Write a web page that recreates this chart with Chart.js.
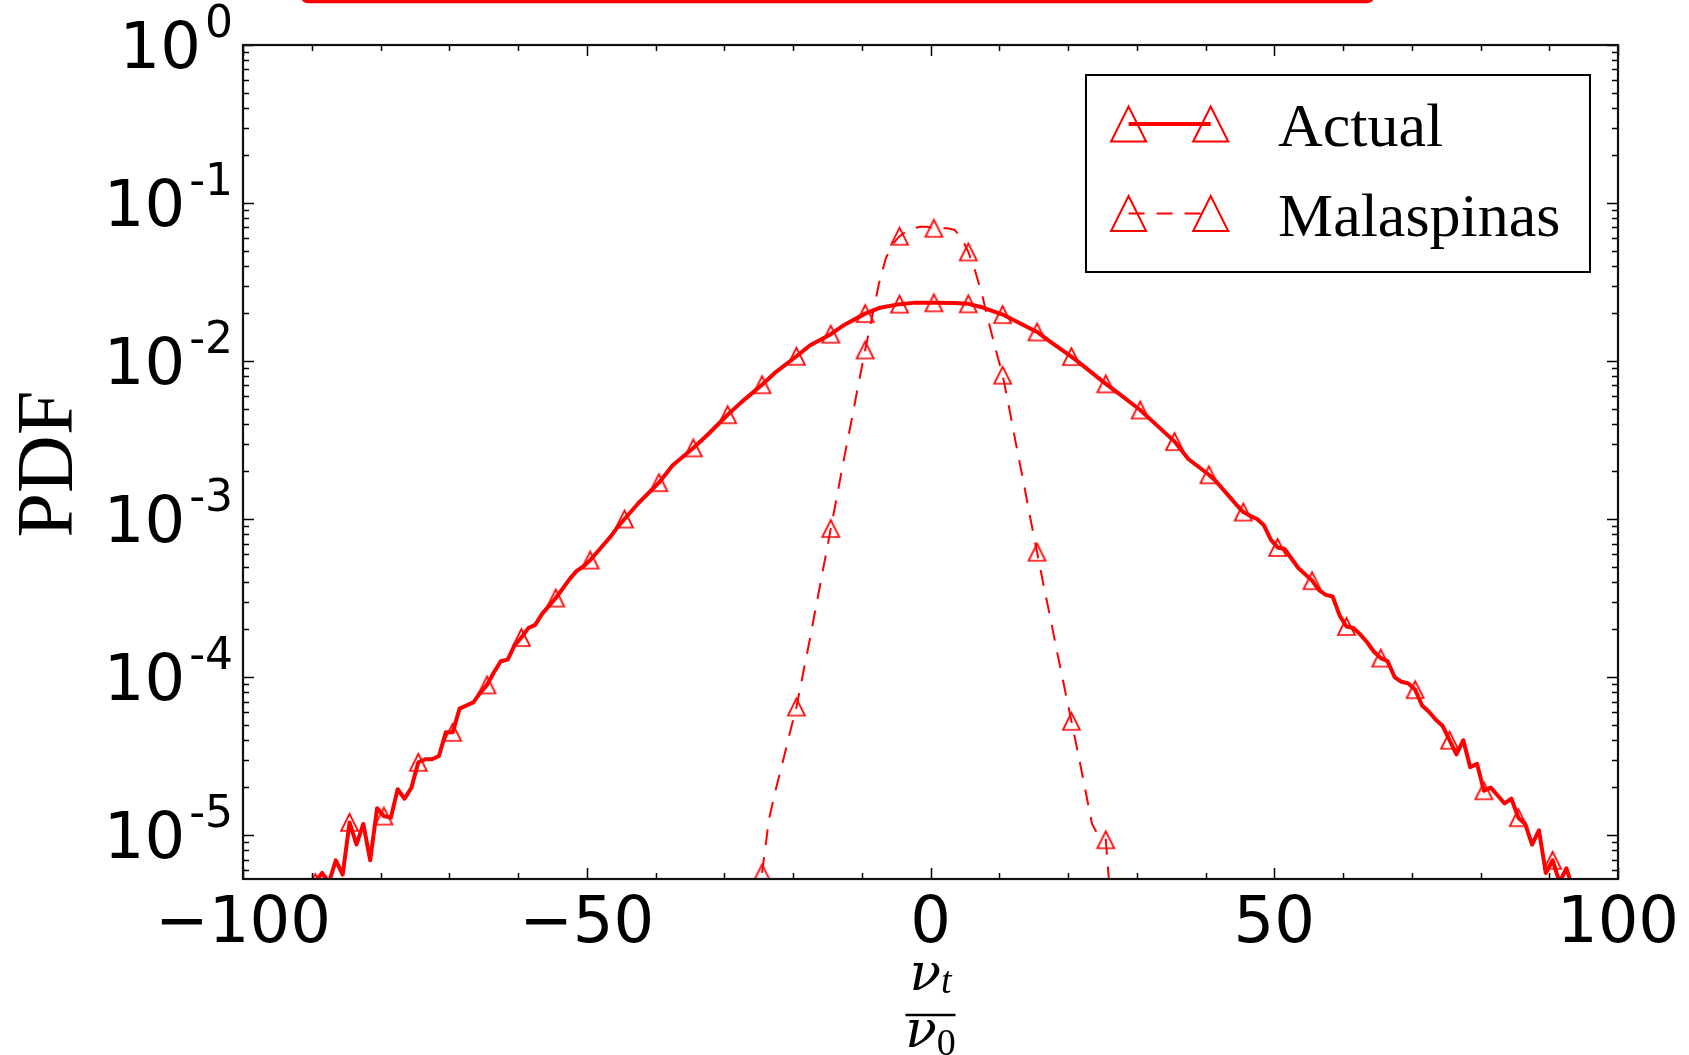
<!DOCTYPE html>
<html>
<head>
<meta charset="utf-8">
<script src="https://cdn.jsdelivr.net/npm/chart.js@4.4.1/dist/chart.umd.min.js"></script>
<style>
  html, body { margin: 0; padding: 0; background: #fff; }
  #wrap { width: 1689px; height: 1055px; }
</style>
</head>
<body>
<div id="wrap"><canvas id="pdfChart" width="1689" height="1055"></canvas></div>
<script>
// values: x = nu_t / nu_0, y stored as log10(PDF)
const actualX = [
  -89.5, -88.5, -87.5, -86.5, -85.5, -84.5, -83.5, -82.5, -81.5, -80.5,
  -79.5, -78.5, -77.5, -76.5, -75.5, -74.5, -73.5, -72.5, -71.5, -70.5,
  -69.5, -68.5, -67.5, -66.5, -65.5, -64.5, -63.5, -62.5, -61.5, -60.5,
  -59.5, -58.5, -57.5, -56.5, -55.5, -54.5, -53.5, -52.5, -51.5, -50.5,
  -49.5, -48.5, -47.5, -46.5, -45.5, -44.5, -42.5, -39.5, -37.5, -34.5,
  -32.5, -29.5, -27.5, -24.5, -22.5, -19.5, -17.5, -14.5, -12.5, -9.5,
  -7.5, -4.5, -2.5, 0.5, 3.5, 5.5, 7.5, 10.5, 12.5, 15.5,
  17.5, 20.5, 22.5, 25.5, 27.5, 30.5, 32.5, 35.5, 37.5, 40.5,
  41.5, 42.5, 43.5, 44.5, 45.5, 46.5, 47.5, 48.5, 49.5, 50.5,
  51.5, 52.5, 53.5, 54.5, 55.5, 56.5, 57.5, 58.5, 59.5, 60.5,
  61.5, 62.5, 63.5, 64.5, 65.5, 66.5, 67.5, 68.5, 69.5, 70.5,
  71.5, 72.5, 73.5, 74.5, 75.5, 76.5, 77.5, 78.5, 79.5, 80.5,
  81.5, 82.5, 83.5, 84.5, 85.5, 86.5, 87.5, 88.5, 89.5, 90.5,
  91.5, 92.5, 93.5
];
const actualLogPdf = [
  -5.30, -5.24, -5.30, -5.16, -5.25, -4.92, -5.06, -4.93, -5.16, -4.83,
  -4.88, -4.89, -4.71, -4.77, -4.70, -4.54, -4.52, -4.52, -4.50, -4.35,
  -4.35, -4.20, -4.18, -4.16, -4.10, -4.05, -3.97, -3.90, -3.89, -3.80,
  -3.75, -3.69, -3.67, -3.60, -3.55, -3.50, -3.44, -3.38, -3.33, -3.30,
  -3.26, -3.21, -3.16, -3.11, -3.05, -3.00, -2.90, -2.77, -2.66, -2.55,
  -2.47, -2.34, -2.26, -2.15, -2.07, -1.97, -1.90, -1.83, -1.77, -1.70,
  -1.665, -1.64, -1.632, -1.632, -1.633, -1.638, -1.66, -1.706, -1.75, -1.816,
  -1.88, -1.972, -2.04, -2.145, -2.21, -2.31, -2.39, -2.51, -2.62, -2.72,
  -2.76, -2.81, -2.86, -2.91, -2.956, -2.98, -3.00, -3.04, -3.13, -3.18,
  -3.19, -3.25, -3.31, -3.35, -3.39, -3.45, -3.48, -3.49, -3.61, -3.68,
  -3.69, -3.73, -3.78, -3.84, -3.88, -3.90, -4.00, -4.03, -4.04, -4.08,
  -4.18, -4.22, -4.27, -4.31, -4.40, -4.49, -4.40, -4.57, -4.55, -4.72,
  -4.70, -4.75, -4.80, -4.77, -4.89, -4.93, -5.06, -4.97, -5.24, -5.16,
  -5.30, -5.21, -5.35
];

const malaX = [
  -24.5, -23.5, -22.5, -21.5, -20.5, -19.5, -18.5, -17.5, -16.5, -15.5,
  -14.5, -13.5, -12.5, -11.5, -10.5, -9.5, -8.5, -7.5, -6.5, -5.5,
  -4.5, -3.5, -2.5, -1.5, -0.5, 0.5, 1.5, 2.5, 3.5, 4.5,
  5.5, 6.5, 7.5, 8.5, 9.5, 10.5, 11.5, 12.5, 13.5, 14.5,
  15.5, 16.5, 17.5, 18.5, 19.5, 20.5, 21.5, 22.5, 23.5, 24.5,
  25.5, 26.5
];
const malaLogPdf = [
  -5.24, -4.90, -4.71, -4.54, -4.36, -4.19, -3.97, -3.75, -3.52, -3.29,
  -3.06, -2.83, -2.60, -2.38, -2.15, -1.93, -1.72, -1.51, -1.35, -1.26,
  -1.21, -1.18, -1.16, -1.15, -1.15, -1.16, -1.16, -1.16, -1.17, -1.22,
  -1.31, -1.43, -1.58, -1.76, -1.93, -2.09, -2.31, -2.54, -2.76, -2.99,
  -3.21, -3.43, -3.64, -3.86, -4.07, -4.28, -4.49, -4.71, -4.93, -5.01,
  -5.03, -5.60
];

const seriesLabels = ['Actual', 'Malaspinas'];
const xTickValues = [-100, -50, 0, 50, 100];
const xTickLabels = ['\u2212100', '\u221250', '0', '50', '100'];
const xMinorTicks = [-90, -80, -70, -60, -40, -30, -20, -10, 10, 20, 30, 40, 60, 70, 80, 90];
const yDecades = [0, -1, -2, -3, -4, -5];
const yLabel = 'PDF';

const X_MIN = -100, X_MAX = 100;
const Y_MIN = 5.27e-6, Y_MAX = 1;
const RED = '#ff0000';

// matplotlib-like hollow '^' marker
function makeTriangle(half, lw) {
    const size = Math.ceil(2 * half + 2 * lw + 4);
    const cv = document.createElement('canvas');
    cv.width = size;
    cv.height = size;
    const g = cv.getContext('2d');
    const c = size / 2;
    g.strokeStyle = RED;
    g.lineWidth = lw;
    g.beginPath();
    g.moveTo(c, c - half);
    g.lineTo(c - half, c + half);
    g.lineTo(c + half, c + half);
    g.closePath();
    g.stroke();
    return cv;
}
const markerImg = makeTriangle(8.5, 1.7);

// markers every 5 units (markevery)
function markerRadius(c) {
    if (!c.raw) return 0;
    const r = ((c.raw.x - 0.5) % 5 + 5) % 5;
    return (r < 1e-6 || r > 5 - 1e-6) ? 9 : 0;
}

function toPoints(xs, logs) {
    return xs.map((x, i) => ({ x: x, y: Math.pow(10, logs[i]) }));
}

function drawLegendTriangle(ctx, cx, cy, half, lw) {
    ctx.save();
    ctx.strokeStyle = RED;
    ctx.lineWidth = lw;
    ctx.setLineDash([]);
    ctx.beginPath();
    ctx.moveTo(cx, cy - half);
    ctx.lineTo(cx - half, cy + half);
    ctx.lineTo(cx + half, cy + half);
    ctx.closePath();
    ctx.stroke();
    ctx.restore();
}

const mplDecor = {
    id: 'mplDecor',
    beforeDraw(chart) {
        const ctx = chart.ctx;
        ctx.save();
        ctx.fillStyle = '#fff';
        ctx.fillRect(0, 0, chart.width, chart.height);
        ctx.restore();
    },
    afterDatasetsDraw(chart) {
        const { ctx, chartArea: a, scales: { x, y } } = chart;
        ctx.save();

        // inward ticks on all four sides
        ctx.strokeStyle = '#000';
        ctx.lineWidth = 1.5;
        ctx.beginPath();
        const xt = xTickValues.map(v => [v, 11]).concat(xMinorTicks.map(v => [v, 6]));
        xt.forEach(([v, len]) => {
            const px = Math.round(x.getPixelForValue(v)) + 0.5;
            ctx.moveTo(px, a.bottom); ctx.lineTo(px, a.bottom - len);
            ctx.moveTo(px, a.top); ctx.lineTo(px, a.top + len);
        });
        for (let e = 0; e >= -6; e--) {
            for (let m = 1; m <= 9; m++) {
                const v = m * Math.pow(10, e);
                if (v < Y_MIN || v > Y_MAX) continue;
                const py = Math.round(y.getPixelForValue(v)) + 0.5;
                const len = m === 1 ? 11 : 6;
                ctx.moveTo(a.left, py); ctx.lineTo(a.left + len, py);
                ctx.moveTo(a.right, py); ctx.lineTo(a.right - len, py);
            }
        }
        ctx.stroke();

        // frame
        ctx.lineWidth = 2.2;
        ctx.strokeStyle = '#111';
        ctx.strokeRect(a.left, a.top, a.right - a.left, a.bottom - a.top);

        // x tick labels
        ctx.fillStyle = '#000';
        ctx.font = '64px "DejaVu Sans"';
        ctx.textAlign = 'center';
        ctx.textBaseline = 'alphabetic';
        xTickValues.forEach((v, i) => {
            ctx.fillText(xTickLabels[i], x.getPixelForValue(v), a.bottom + 63);
        });

        // y tick labels 10^e
        yDecades.forEach(e => {
            const py = y.getPixelForValue(Math.pow(10, e));
            const expTxt = e === 0 ? '0' : '-' + Math.abs(e);
            const right = a.left - 10;
            ctx.textAlign = 'right';
            ctx.font = '44px "DejaVu Sans"';
            ctx.fillText(expTxt, right, py - 8);
            const ew = ctx.measureText(expTxt).width;
            ctx.font = '64px "DejaVu Sans"';
            ctx.fillText('10', right - ew - 4, py + 23);
        });

        // y axis title
        ctx.save();
        ctx.translate(72, 464);
        ctx.rotate(-Math.PI / 2);
        ctx.font = '80px "Liberation Serif"';
        ctx.textAlign = 'center';
        ctx.fillText(yLabel, 0, 0);
        ctx.restore();

        // x axis title: nu_t / nu_0
        const cx = x.getPixelForValue(0);
        ctx.textAlign = 'left';
        ctx.font = 'italic 52px "DejaVu Serif"';
        const wNu = ctx.measureText('\u03bd').width;
        ctx.font = 'italic 38px "Liberation Serif"';
        const wT = ctx.measureText('t').width;
        let sx = cx - (wNu + wT) / 2;
        ctx.font = 'italic 52px "DejaVu Serif"';
        ctx.fillText('\u03bd', sx, 990);
        ctx.font = 'italic 38px "Liberation Serif"';
        ctx.fillText('t', sx + wNu, 993);
        ctx.font = '38px "Liberation Serif"';
        const w0 = ctx.measureText('0').width;
        sx = cx - (wNu + w0) / 2;
        ctx.font = 'italic 52px "DejaVu Serif"';
        ctx.fillText('\u03bd', sx, 1047);
        ctx.font = '38px "Liberation Serif"';
        ctx.fillText('0', sx + wNu, 1055);
        ctx.lineWidth = 2.5;
        ctx.strokeStyle = '#000';
        ctx.beginPath();
        ctx.moveTo(cx - 25, 1015);
        ctx.lineTo(cx + 25, 1015);
        ctx.stroke();

        // legend
        const lx = 1086, ly = 75, lw = 504, lh = 197;
        ctx.fillStyle = '#fff';
        ctx.fillRect(lx, ly, lw, lh);
        ctx.lineWidth = 2;
        ctx.strokeStyle = '#000';
        ctx.strokeRect(lx, ly, lw, lh);
        const rows = [124, 213.5];
        chart.data.datasets.forEach((ds, i) => {
            const ry = rows[i];
            ctx.save();
            ctx.strokeStyle = ds.borderColor;
            ctx.lineWidth = ds.borderWidth;
            ctx.setLineDash(ds.borderDash || []);
            ctx.beginPath();
            ctx.moveTo(1128.6, ry);
            ctx.lineTo(1210.7, ry);
            ctx.stroke();
            ctx.restore();
            drawLegendTriangle(ctx, 1128.6, ry, 17.5, 2);
            drawLegendTriangle(ctx, 1210.7, ry, 17.5, 2);
            ctx.fillStyle = '#000';
            ctx.font = '62px "Liberation Serif"';
            ctx.textAlign = 'left';
            ctx.fillText(ds.label, 1278, ry + 22);
        });

        // cropped red box edge at the very top
        ctx.strokeStyle = RED;
        ctx.lineWidth = 3.5;
        ctx.setLineDash([]);
        ctx.beginPath();
        ctx.roundRect(302, -40, 1071, 41.5, 6);
        ctx.stroke();

        ctx.restore();
    }
};

Chart.defaults.animation = false;

new Chart(document.getElementById('pdfChart'), {
    type: 'line',
    data: {
        datasets: [
            {
                label: seriesLabels[0],
                data: toPoints(actualX, actualLogPdf),
                borderColor: RED,
                borderWidth: 4,
                borderJoinStyle: 'round',
                fill: false,
                tension: 0,
                pointStyle: markerImg,
                pointRadius: markerRadius,
                pointHoverRadius: 0,
                clip: 0,
                order: 2
            },
            {
                label: seriesLabels[1],
                data: toPoints(malaX, malaLogPdf),
                borderColor: RED,
                borderWidth: 2,
                borderDash: [16, 12],
                fill: false,
                tension: 0,
                pointStyle: markerImg,
                pointRadius: markerRadius,
                pointHoverRadius: 0,
                clip: 0,
                order: 1
            }
        ]
    },
    options: {
        responsive: false,
        animation: false,
        events: [],
        layout: { padding: { left: 0, right: 71, top: 45, bottom: 0 } },
        scales: {
            x: {
                type: 'linear',
                min: X_MIN,
                max: X_MAX,
                grid: { display: false },
                border: { display: false },
                ticks: { display: false },
                afterFit: s => { s.height = 176; }
            },
            y: {
                type: 'logarithmic',
                min: Y_MIN,
                max: Y_MAX,
                grid: { display: false },
                border: { display: false },
                ticks: { display: false },
                afterFit: s => { s.width = 243; }
            }
        },
        plugins: {
            legend: { display: false },
            tooltip: { enabled: false }
        }
    },
    plugins: [mplDecor]
});
</script>
</body>
</html>
